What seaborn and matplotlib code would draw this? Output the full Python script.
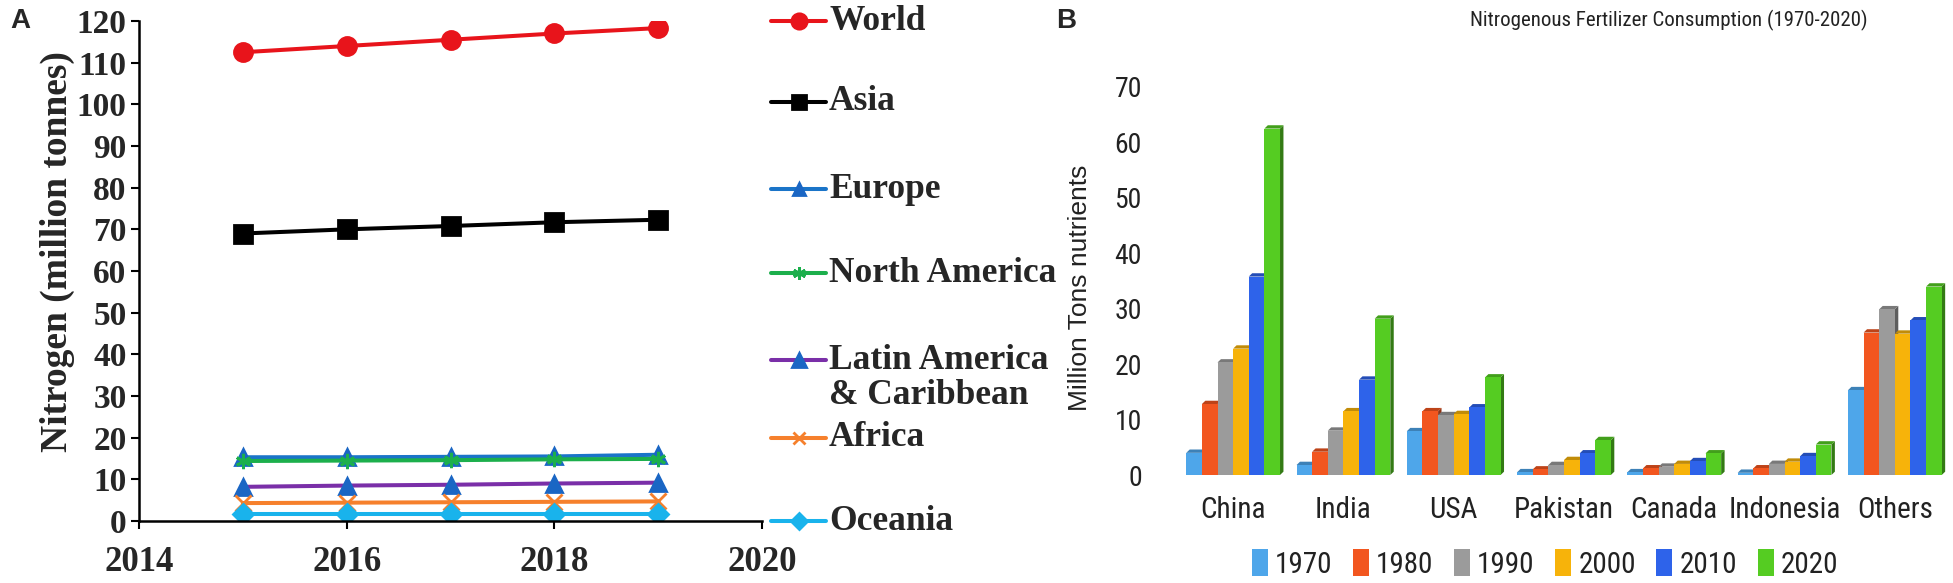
import numpy as np
import pandas as pd
import seaborn as sns
import matplotlib.pyplot as plt
import matplotlib.colors as mcolors
from matplotlib import font_manager
from matplotlib.patches import Polygon, Patch

# ---- Panel A data (million tonnes N) ----
years = [2015, 2016, 2017, 2018, 2019]
world = [112.5, 114.0, 115.5, 117.0, 118.3]
asia = [69.0, 70.0, 70.8, 71.7, 72.3]
europe = [15.3, 15.3, 15.4, 15.5, 15.9]
north_america = [14.4, 14.5, 14.6, 14.8, 14.9]
latin_america = [8.2, 8.5, 8.7, 9.0, 9.2]
africa = [4.3, 4.4, 4.5, 4.6, 4.7]
oceania = [1.8, 1.8, 1.8, 1.8, 1.8]

# ---- Panel B data (million tons nutrients) ----
countries = ['China', 'India', 'USA', 'Pakistan', 'Canada', 'Indonesia', 'Others']
decades = ['1970', '1980', '1990', '2000', '2010', '2020']
n_1970 = [4.0, 1.8, 7.9, 0.5, 0.5, 0.4, 15.3]
n_1980 = [12.8, 4.2, 11.5, 1.0, 1.2, 1.2, 25.7]
n_1990 = [20.3, 8.0, 10.8, 1.8, 1.5, 2.0, 29.9]
n_2000 = [22.8, 11.5, 11.0, 2.7, 2.0, 2.4, 25.5]
n_2010 = [35.8, 17.2, 12.2, 3.9, 2.5, 3.4, 27.9]
n_2020 = [62.5, 28.2, 17.6, 6.3, 3.9, 5.5, 34.0]
bar_colors = ['#4ea6ea', '#f2561f', '#9b9b9b', '#f7b30a', '#2e63ea', '#55cc22']

sns.set_theme(style='white')
W, H = 1953, 583
fig = plt.figure(figsize=(W / 100, H / 100), dpi=100)
serif = ['Liberation Serif', 'DejaVu Serif']
sans = ['Liberation Sans', 'DejaVu Sans']

# pick a condensed sans if one is installed
installed = {f.name for f in font_manager.fontManager.ttflist}
narrow = sans
for cand in ['Liberation Sans Narrow', 'Roboto Condensed', 'Open Sans Condensed',
             'DejaVu Sans Condensed', 'Noto Sans Condensed']:
    if cand in installed:
        narrow = [cand] + sans
        break

# ================= Panel A =================
axA = fig.add_axes([139 / W, 1 - 521 / H, 623 / W, 500 / H])

regions = [
    # name, values, line colour, marker, marker colour, marker size
    ('World', world, '#e8141b', 'o', '#e8141b', 13),
    ('Asia', asia, '#000000', 's', '#000000', 12.5),
    ('Europe', europe, '#1a74c8', '^', '#1a66c4', 11),
    ('North America', north_america, '#1caf4c', (6, 2, 0), '#1caf4c', 11),
    ('Latin America\n& Caribbean', latin_america, '#7a2fa8', '^', '#1a66c4', 12),
    ('Africa', africa, '#f6802c', 'x', '#f6802c', 11),
    ('Oceania', oceania, '#19b3ec', 'D', '#19b3ec', 10),
]

for name, vals, lc, mk, mc, ms in regions:
    sns.lineplot(x=years, y=vals, ax=axA, color=lc, lw=2.9, marker=mk,
                 markersize=ms, markerfacecolor=mc, markeredgecolor=mc,
                 markeredgewidth=2)

axA.set_xlim(2014, 2020)
axA.set_ylim(0, 120)
axA.set_xticks([2014, 2016, 2018, 2020])
axA.set_yticks(range(0, 121, 10))
for s in ['top', 'right']:
    axA.spines[s].set_visible(False)
for s in ['left', 'bottom']:
    axA.spines[s].set_color('black')
    axA.spines[s].set_linewidth(1.8)
axA.tick_params(axis='both', direction='out', length=6, width=1.5, color='black',
                left=True, bottom=True, labelsize=24, pad=3)
for lab in axA.get_xticklabels() + axA.get_yticklabels():
    lab.set_family(serif)
    lab.set_fontweight('bold')
axA.tick_params(axis='x', pad=12, labelsize=25)
axA.set_ylabel('Nitrogen (million tonnes)', family=serif, fontweight='bold',
               fontsize=27)
axA.yaxis.set_label_coords(-0.103, 0.538)

# legend for panel A, drawn in pixel space
lax = fig.add_axes([0, 0, 1, 1], zorder=-1)
lax.set_xlim(0, W)
lax.set_ylim(H, 0)
lax.axis('off')
leg_y = [21, 102, 189, 273, 378, 438, 521]
for (name, vals, lc, mk, mc, ms), y in zip(regions, leg_y):
    my = y - 18 if '\n' in name else y
    lax.plot([771, 826], [my, my], color=lc, lw=2.9)
    lax.plot([799], [my], marker=mk, ms=ms * 0.85, color=mc, mec=mc, mew=2)
    lax.text(829, y, name, family=serif, fontweight='bold', fontsize=25.5,
             va='center', ha='left', linespacing=1.05)

fig.text(10 / W, 1 - 21 / H, 'A', fontsize=20, fontweight='bold', va='center',
         family=sans)
fig.text(1056 / W, 1 - 21 / H, 'B', fontsize=20, fontweight='bold', va='center',
         family=sans)

# ================= Panel B =================
df = pd.DataFrame({'country': countries, '1970': n_1970, '1980': n_1980,
                   '1990': n_1990, '2000': n_2000, '2010': n_2010, '2020': n_2020})
df = df.melt(id_vars='country', var_name='decade', value_name='value')

axB = fig.add_axes([1178 / W, 1 - 475 / H, 772 / W, 388 / H])
sns.barplot(data=df, x='country', y='value', hue='decade', order=countries,
            hue_order=decades, palette=bar_colors, width=0.85, saturation=1,
            ax=axB, legend=False, linewidth=0)

# fake 3D faces on each bar
bars = sorted([p for p in axB.patches], key=lambda p: p.get_x())
for i, p in enumerate(bars):
    x, w, h = p.get_x(), p.get_width(), p.get_height()
    base = np.array(mcolors.to_rgb(p.get_facecolor()))
    z = 2 + i * 0.01
    p.set_zorder(z)
    dx, dy = 0.22 * w, 0.6
    side = Polygon([(x + w, 0), (x + w + dx, dy), (x + w + dx, h + dy), (x + w, h)],
                   closed=True, facecolor=base * 0.6, edgecolor='none', zorder=z - 0.005)
    top = Polygon([(x, h), (x + dx, h + dy), (x + w + dx, h + dy), (x + w, h)],
                  closed=True, facecolor=base * 0.78, edgecolor='none', zorder=z - 0.004)
    axB.add_patch(side)
    axB.add_patch(top)

axB.set_xlim(-0.5, 6.5)
axB.set_ylim(0, 70)
axB.set_yticks(range(0, 71, 10))
for s in axB.spines.values():
    s.set_visible(False)
axB.tick_params(axis='both', length=0, colors='#222222')
axB.tick_params(axis='y', pad=26, labelsize=20)
axB.tick_params(axis='x', pad=15, labelsize=21)
for lab in axB.get_xticklabels() + axB.get_yticklabels():
    lab.set_family(narrow)
axB.set_xlabel('')
axB.set_ylabel('Million Tons nutrients', family=sans, fontsize=19, color='#222222')
axB.yaxis.set_label_coords((1092 - 1178) / 772, 1 - (288 - 87) / 388)
fig.text(1669 / W, 1 - 20 / H, 'Nitrogenous Fertilizer Consumption (1970-2020)',
         family=narrow, fontsize=15, ha='center', va='center', color='#222222')

handles = [Patch(facecolor=c, edgecolor='none', label=d) for c, d in zip(bar_colors, decades)]
leg = fig.legend(handles=handles, loc='center', bbox_to_anchor=(1545 / W, 1 - 564 / H),
                 ncol=6, frameon=False, handlelength=0.55, handleheight=1.0,
                 handletextpad=0.25, columnspacing=0.7, borderpad=0,
                 prop={'family': narrow, 'size': 21})
for t in leg.get_texts():
    t.set_color('#222222')

fig.savefig('out.png', dpi=100)
